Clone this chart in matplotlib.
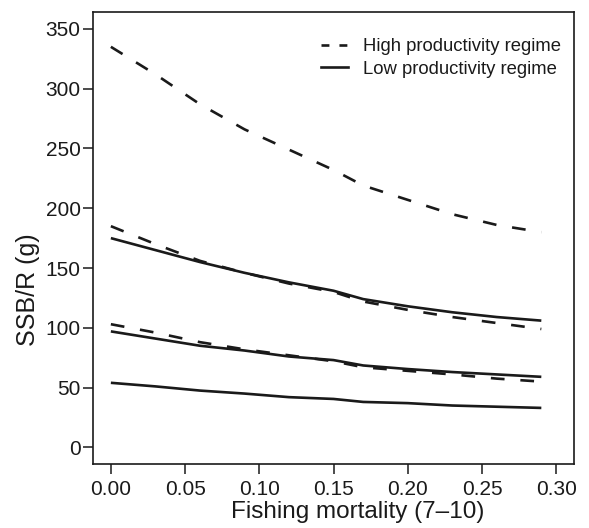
import matplotlib
matplotlib.use("Agg")
import matplotlib.pyplot as plt
from matplotlib.lines import Line2D

plt.rcParams['font.family'] = ['Liberation Sans', 'DejaVu Sans']

# fishing mortality grid
F = [0.00, 0.03, 0.06, 0.09, 0.12, 0.15, 0.17, 0.20, 0.23, 0.26, 0.29]

# SSB per recruit (g), high productivity regime (dashed)
high_1 = [335, 312, 287, 266, 249, 232, 219, 207, 195, 186, 180]
high_2 = [185, 170, 156, 146, 137, 130, 122, 115, 109, 104, 99]
high_3 = [103, 96, 88, 82, 77, 72, 67, 64, 61, 57.5, 55]

# SSB per recruit (g), low productivity regime (solid)
low_1 = [175, 165, 155, 146, 138, 131, 124, 118, 113, 109, 106]
low_2 = [97, 91, 85, 81, 76, 73, 68.5, 65.5, 63, 61, 59]
low_3 = [54, 51, 47.5, 45, 42, 40.5, 38, 37, 35, 34, 33]

ink = '#1a1a1a'
lw = 1.9
dash = (5.2, 6)

fig = plt.figure(figsize=(5.89, 5.28), dpi=100)
ax = fig.add_axes([0.158, 0.121, 0.8165, 0.856])

for s in [high_1, high_2, high_3]:
    ax.plot(F, s, color=ink, lw=lw, ls=(0, dash), dash_capstyle='butt')
for s in [low_1, low_2, low_3]:
    ax.plot(F, s, color=ink, lw=lw, solid_capstyle='butt')

ax.set_xlim(-0.012, 0.312)
ax.set_ylim(-14, 364)
ax.set_xticks([0.00, 0.05, 0.10, 0.15, 0.20, 0.25, 0.30])
ax.set_xticklabels(['0.00', '0.05', '0.10', '0.15', '0.20', '0.25', '0.30'])
ax.set_yticks([0, 50, 100, 150, 200, 250, 300, 350])
ax.tick_params(labelsize=15, length=7.5, width=1.1, color=ink, labelcolor=ink)
ax.tick_params(axis='x', pad=4)
ax.tick_params(axis='y', pad=1.5)
for sp in ax.spines.values():
    sp.set_linewidth(1.2)
    sp.set_color(ink)

fig.text(0.048, 0.452, 'SSB/R (g)', fontsize=18, color=ink,
         rotation=90, ha='center', va='center')
fig.text(0.608, 0.030, 'Fishing mortality (7\u201310)', fontsize=17.5, color=ink,
         ha='center', va='center')

handles = [Line2D([], [], color=ink, lw=lw, ls=(0, (3, 3.8)), dash_capstyle='butt'),
           Line2D([], [], color=ink, lw=lw)]
ax.legend(handles, ['High productivity regime', 'Low productivity regime'],
          loc='upper right', bbox_to_anchor=(1.008, 0.979), frameon=False,
          fontsize=13.3, handlelength=1.45, handletextpad=0.85, labelspacing=0.3,
          labelcolor=ink)

fig.savefig('out.png', dpi=100)
